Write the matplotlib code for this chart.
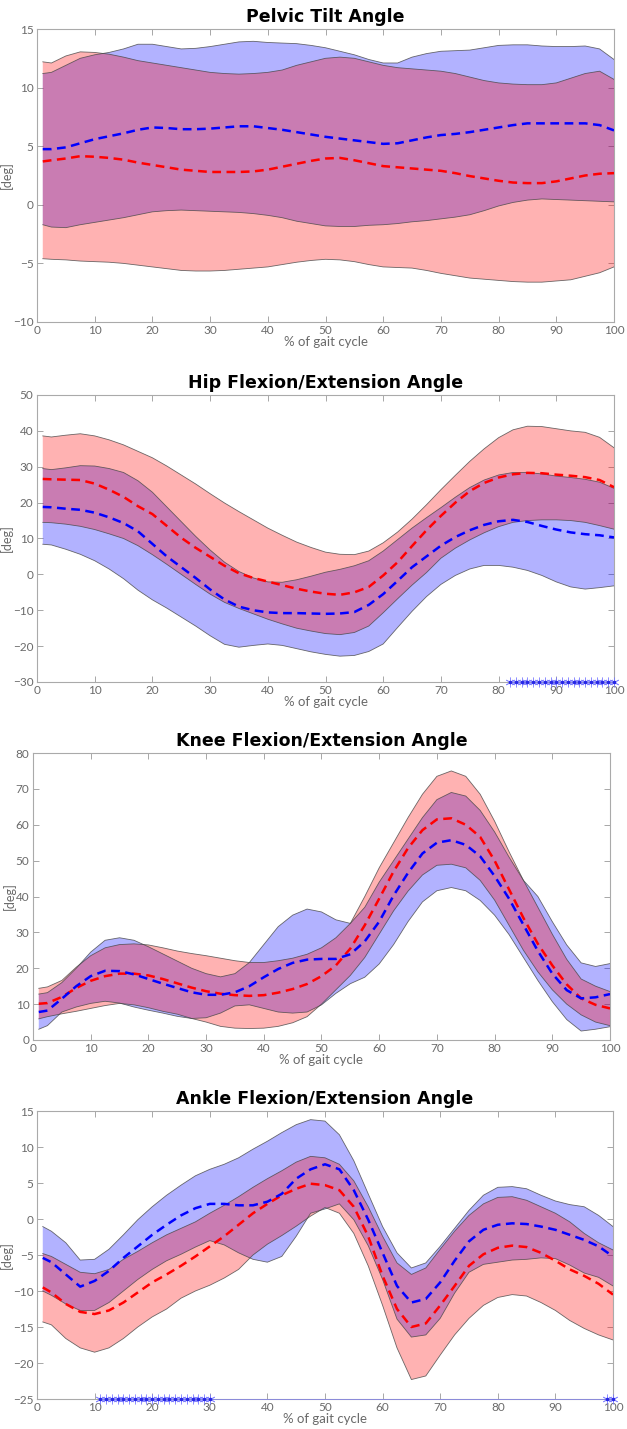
import matplotlib
matplotlib.use("Agg")
import matplotlib.pyplot as plt

# ---------------- data ----------------
X = [1, 2.5, 5, 7.5, 10, 12.5, 15, 17.5, 20, 22.5, 25, 27.5, 30, 32.5, 35, 37.5, 40,
     42.5, 45, 47.5, 50, 52.5, 55, 57.5, 60, 62.5, 65, 67.5, 70, 72.5, 75, 77.5, 80,
     82.5, 85, 87.5, 90, 92.5, 95, 97.5, 100]

# Pelvic tilt
pel_blue_up = [11.2, 11.3, 11.9, 12.5, 12.8, 13.0, 13.3, 13.7, 13.7, 13.5, 13.3, 13.35, 13.5, 13.7,
               13.9, 13.95, 13.85, 13.8, 13.75, 13.6, 13.4, 13.1, 12.8, 12.4, 12.1, 12.1, 12.6, 12.9,
               13.1, 13.15, 13.2, 13.4, 13.6, 13.65, 13.65, 13.55, 13.5, 13.5, 13.55, 13.3, 12.4]
pel_blue_mean = [4.75, 4.75, 4.9, 5.25, 5.6, 5.85, 6.1, 6.4, 6.6, 6.55, 6.45, 6.45, 6.5, 6.6, 6.7,
                 6.7, 6.55, 6.4, 6.2, 6.0, 5.8, 5.65, 5.5, 5.35, 5.2, 5.25, 5.5, 5.75, 5.95, 6.05,
                 6.2, 6.4, 6.6, 6.8, 6.95, 6.95, 6.95, 6.95, 6.95, 6.8, 6.35]
pel_blue_lo = [-1.7, -1.9, -1.95, -1.7, -1.5, -1.3, -1.1, -0.85, -0.6, -0.5, -0.45, -0.5, -0.55,
               -0.6, -0.65, -0.75, -0.9, -1.1, -1.4, -1.6, -1.8, -1.85, -1.85, -1.75, -1.7, -1.6,
               -1.45, -1.35, -1.2, -1.05, -0.85, -0.5, -0.1, 0.2, 0.4, 0.5, 0.45, 0.4, 0.35, 0.3, 0.25]
pel_red_up = [12.2, 12.1, 12.7, 13.05, 13.0, 12.85, 12.6, 12.3, 12.1, 11.9, 11.7, 11.5, 11.3, 11.2,
              11.15, 11.2, 11.3, 11.5, 11.9, 12.2, 12.5, 12.6, 12.5, 12.2, 11.9, 11.7, 11.6, 11.5,
              11.4, 11.2, 10.9, 10.6, 10.4, 10.3, 10.25, 10.25, 10.4, 10.8, 11.2, 11.4, 10.7]
pel_red_mean = [3.7, 3.8, 3.95, 4.15, 4.1, 4.0, 3.85, 3.6, 3.4, 3.2, 3.0, 2.9, 2.8, 2.8, 2.8, 2.85,
                3.0, 3.25, 3.5, 3.75, 3.95, 4.0, 3.8, 3.55, 3.3, 3.2, 3.1, 3.0, 2.9, 2.7, 2.45, 2.25,
                2.05, 1.9, 1.85, 1.85, 2.0, 2.25, 2.5, 2.65, 2.7]
pel_red_lo = [-4.6, -4.65, -4.7, -4.8, -4.85, -4.9, -5.0, -5.15, -5.3, -5.45, -5.6, -5.65, -5.65,
              -5.6, -5.5, -5.4, -5.3, -5.1, -4.9, -4.75, -4.65, -4.7, -4.85, -5.1, -5.3, -5.35,
              -5.4, -5.6, -5.85, -6.05, -6.25, -6.35, -6.45, -6.55, -6.6, -6.6, -6.5, -6.4, -6.1,
              -5.8, -5.3]

# Hip flexion/extension
hip_blue_up = [29.5, 29.2, 29.7, 30.3, 30.2, 29.5, 28.4, 26.1, 22.9, 18.8, 14.7, 10.6, 6.8, 3.4,
               0.8, -1.0, -2.1, -2.2, -1.5, -0.5, 0.6, 1.4, 2.4, 3.8, 6.5, 9.7, 12.9, 15.8, 18.6,
               21.5, 24.2, 26.3, 27.7, 28.4, 28.4, 28.0, 27.4, 27.0, 26.5, 25.7, 24.0]
hip_blue_mean = [18.8, 18.7, 18.3, 18.0, 17.2, 15.9, 14.3, 12.0, 8.5, 5.0, 2.0, -1.0, -4.2, -7.0,
                 -9.0, -10.0, -10.6, -10.8, -10.8, -10.9, -11.0, -10.9, -10.5, -8.5, -5.5, -1.8,
                 2.0, 5.0, 8.0, 10.4, 12.3, 13.8, 14.8, 15.2, 14.6, 13.5, 12.5, 11.7, 11.2, 10.9, 10.3]
hip_blue_lo = [8.4, 8.2, 7.0, 5.6, 3.8, 1.5, -1.2, -4.4, -7.1, -9.4, -11.9, -14.4, -17.1, -19.5,
               -20.3, -19.8, -19.4, -19.8, -20.7, -21.6, -22.3, -22.8, -22.6, -21.5, -19.4, -14.8,
               -10.3, -6.2, -2.8, -0.3, 1.5, 2.5, 2.5, 2.0, 1.1, -0.3, -2.1, -3.5, -4.1, -3.7, -3.2]
hip_red_up = [38.6, 38.3, 38.8, 39.2, 38.6, 37.5, 36.1, 34.3, 32.5, 30.2, 27.7, 25.2, 22.5, 19.9,
              17.5, 15.2, 12.9, 10.9, 9.0, 7.5, 6.2, 5.6, 5.5, 6.5, 8.8, 11.8, 15.4, 19.4, 23.6,
              27.6, 31.5, 35.0, 38.1, 40.3, 41.3, 41.2, 40.6, 40.0, 39.6, 38.2, 35.3]
hip_red_mean = [26.6, 26.5, 26.4, 26.3, 25.3, 23.6, 21.6, 19.0, 16.8, 13.5, 10.2, 7.4, 4.9, 2.4,
                0.3, -1.0, -2.0, -3.0, -4.0, -4.8, -5.4, -5.7, -5.0, -3.5, -0.3, 3.4, 7.9, 12.3,
                16.3, 20.0, 23.2, 25.5, 27.0, 27.9, 28.3, 28.2, 27.8, 27.5, 27.1, 26.3, 24.3]
hip_red_lo = [14.5, 14.4, 14.0, 13.4, 12.5, 11.3, 10.0, 8.0, 5.5, 2.8, 0.0, -2.8, -5.5, -7.8, -9.5,
              -11.0, -12.5, -13.8, -15.0, -15.8, -16.5, -16.8, -16.2, -14.4, -10.7, -6.8, -3.0,
              0.5, 4.5, 7.3, 9.6, 11.6, 13.3, 14.5, 15.0, 15.2, 15.2, 15.0, 14.5, 13.6, 12.6]
hip_sig_x = [82, 83, 84, 85, 86, 87, 88, 89, 90, 91, 92, 93, 94, 95, 96, 97, 98, 99, 100]

# Knee flexion/extension
knee_blue_up = [12.8, 13.2, 16.0, 20.0, 24.5, 27.8, 28.5, 27.8, 26.0, 24.0, 22.0, 20.0, 18.5, 17.6,
                18.5, 21.6, 26.6, 31.6, 34.8, 36.5, 35.7, 33.5, 32.5, 37.0, 44.0, 50.0, 56.0, 62.0,
                67.0, 69.0, 68.0, 64.0, 58.0, 51.0, 44.5, 40.0, 33.0, 26.5, 21.5, 20.5, 21.3]
knee_blue_mean = [7.8, 8.2, 11.5, 15.0, 17.8, 19.3, 19.2, 18.3, 17.0, 15.7, 14.5, 13.3, 12.6, 12.6,
                  13.3, 15.0, 17.5, 19.8, 21.5, 22.4, 22.6, 22.6, 23.9, 27.5, 33.0, 40.3, 46.6, 52.0,
                  55.0, 55.7, 54.4, 51.2, 45.7, 39.4, 32.1, 24.8, 18.5, 13.9, 11.6, 11.9, 12.8]
knee_blue_lo = [3.0, 4.0, 7.8, 9.2, 10.2, 10.8, 10.3, 9.2, 8.3, 7.5, 6.6, 6.0, 6.2, 7.5, 9.5, 9.8,
                8.8, 7.8, 7.5, 7.8, 9.8, 13.0, 15.7, 17.5, 21.2, 26.6, 33.0, 38.5, 41.6, 42.5, 41.6,
                38.9, 34.8, 29.4, 23.0, 16.6, 10.7, 5.7, 2.5, 3.0, 3.7]
knee_red_up = [14.4, 14.8, 16.6, 20.3, 23.5, 25.7, 26.6, 26.8, 26.5, 25.7, 24.8, 24.1, 23.5, 22.8,
               22.1, 21.6, 21.6, 22.1, 22.8, 23.9, 25.7, 28.5, 32.5, 40.0, 48.0, 55.0, 62.0, 68.5,
               73.5, 75.0, 73.5, 68.5, 61.0, 52.5, 44.5, 37.0, 29.5, 22.5, 17.0, 15.0, 13.5]
knee_red_mean = [10.1, 10.3, 12.0, 14.5, 16.5, 17.8, 18.5, 18.5, 18.0, 17.0, 15.8, 14.6, 13.6, 12.9,
                 12.5, 12.3, 12.5, 13.2, 14.2, 15.6, 17.8, 20.8, 25.5, 32.0, 39.4, 47.0, 53.5, 58.5,
                 61.5, 61.8, 60.0, 56.6, 50.0, 42.0, 34.0, 26.8, 20.8, 15.5, 11.6, 9.8, 8.8]
knee_red_lo = [5.9, 6.5, 7.3, 8.0, 8.8, 9.6, 10.2, 9.8, 9.0, 8.0, 7.2, 6.0, 5.0, 3.8, 3.3, 3.2, 3.3,
               3.8, 4.8, 6.5, 10.0, 14.0, 18.0, 23.0, 29.5, 36.0, 41.5, 46.0, 48.7, 49.0, 48.0, 44.5,
               39.0, 32.0, 25.0, 19.0, 14.0, 10.0, 7.0, 5.0, 4.0]

# Ankle flexion/extension
ank_blue_up = [-1.05, -1.7, -3.3, -5.7, -5.6, -4.2, -2.2, -0.1, 1.7, 3.3, 4.7, 6.0, 6.9, 7.6, 8.5,
               9.7, 10.8, 12.0, 13.1, 13.8, 13.6, 11.7, 8.1, 3.5, -1.05, -4.7, -6.8, -6.1, -3.8,
               -1.3, 1.2, 3.3, 4.4, 4.5, 4.2, 3.3, 2.5, 2.0, 1.7, 0.5, -1.05]
ank_blue_mean = [-5.4, -6.0, -7.7, -9.4, -8.6, -7.2, -5.4, -3.8, -2.2, -0.8, 0.5, 1.5, 2.1, 2.1, 1.9,
                 1.9, 2.4, 3.5, 5.6, 6.9, 7.6, 6.9, 4.0, -0.1, -4.7, -9.3, -11.6, -11.1, -8.8, -5.8,
                 -3.1, -1.5, -0.8, -0.6, -0.7, -1.05, -1.5, -2.2, -2.9, -3.8, -5.2]
ank_blue_lo = [-10.0, -10.6, -11.8, -12.7, -12.7, -11.6, -10.0, -8.4, -7.0, -5.8, -4.9, -3.9, -3.0,
               -3.6, -4.7, -5.6, -6.0, -5.2, -2.4, 0.8, 1.4, 2.1, -0.1, -3.7, -8.4, -13.9, -16.4,
               -16.1, -13.8, -10.3, -7.4, -6.3, -6.0, -5.7, -5.6, -5.4, -5.5, -6.4, -7.5, -8.1, -9.3]
ank_red_up = [-4.8, -5.2, -6.3, -7.4, -7.6, -7.0, -5.6, -4.5, -3.3, -2.2, -1.3, -0.4, 0.8, 1.9, 3.1,
              4.4, 5.6, 6.7, 7.9, 8.7, 8.5, 7.6, 5.3, 1.7, -2.4, -6.1, -7.7, -6.8, -4.2, -1.7, 0.5,
              2.1, 3.0, 3.1, 2.6, 1.7, 0.8, -0.4, -2.0, -3.3, -4.3]
ank_red_mean = [-9.5, -10.2, -11.8, -12.9, -13.2, -12.7, -11.6, -10.2, -8.8, -7.7, -6.5, -5.2, -3.8,
                -2.4, -0.8, 0.8, 2.1, 3.3, 4.2, 4.9, 4.7, 4.0, 1.7, -2.4, -7.9, -12.5, -15.0, -14.5,
                -12.0, -9.3, -6.5, -4.9, -4.0, -3.7, -3.9, -4.7, -5.8, -7.0, -7.9, -9.0, -10.5]
ank_red_lo = [-14.3, -14.7, -16.6, -17.9, -18.5, -17.9, -16.6, -15.0, -13.6, -12.5, -11.0, -10.0,
              -9.2, -8.2, -7.0, -5.0, -3.5, -2.3, -1.0, 0.4, 1.6, 0.8, -2.0, -6.5, -12.0, -17.9,
              -22.3, -21.8, -18.9, -16.1, -13.8, -12.0, -10.9, -10.5, -10.7, -11.6, -12.7, -14.1,
              -15.2, -16.1, -16.8]
ank_sig_x = [11, 12, 13, 14, 15, 16, 17, 18, 19, 20, 21, 22, 23, 24, 25, 26, 27, 28, 29, 30, 99, 100]

titles = ["Pelvic Tilt Angle", "Hip Flexion/Extension Angle",
          "Knee Flexion/Extension Angle", "Ankle Flexion/Extension Angle"]
xticks = [0, 10, 20, 30, 40, 50, 60, 70, 80, 90, 100]
yticks_list = [[-10, -5, 0, 5, 10, 15], [-30, -20, -10, 0, 10, 20, 30, 40, 50],
               [0, 10, 20, 30, 40, 50, 60, 70, 80], [-25, -20, -15, -10, -5, 0, 5, 10, 15]]

panels = [
    (pel_blue_lo, pel_blue_up, pel_blue_mean, pel_red_lo, pel_red_up, pel_red_mean, None),
    (hip_blue_lo, hip_blue_up, hip_blue_mean, hip_red_lo, hip_red_up, hip_red_mean, hip_sig_x),
    (knee_blue_lo, knee_blue_up, knee_blue_mean, knee_red_lo, knee_red_up, knee_red_mean, None),
    (ank_blue_lo, ank_blue_up, ank_blue_mean, ank_red_lo, ank_red_up, ank_red_mean, ank_sig_x),
]

# pixel boxes (left, right, top, bottom)
W, H = 627, 1429
boxes = [(37, 614, 29, 322), (37, 614, 395, 682), (33, 610, 753, 1040), (37, 613, 1111, 1399)]

plt.rcParams['font.family'] = ['Lato', 'DejaVu Sans']
fig = plt.figure(figsize=(W / 100, H / 100), dpi=100)
fig.patch.set_facecolor('white')

edge = (0.28, 0.28, 0.28)
tick_col = '#6a6a6a'
for i, (box, data) in enumerate(zip(boxes, panels)):
    l, r, t, b = box
    ax = fig.add_axes([l / W, 1 - b / H, (r - l) / W, (b - t) / H])
    blo, bup, bmean, rlo, rup, rmean, sig = data
    ax.fill_between(X, blo, bup, facecolor=(0, 0, 1), alpha=0.3, edgecolor='none', zorder=2)
    ax.fill_between(X, rlo, rup, facecolor=(1, 0, 0), alpha=0.3, edgecolor='none', zorder=3)
    for arr in (blo, bup, rlo, rup):
        ax.plot(X, arr, color=edge, lw=0.6, alpha=0.8, zorder=4)
    ax.plot(X, rmean, color=(1, 0, 0), lw=1.8, ls=(0, (3.5, 2.2)), zorder=5)
    ax.plot(X, bmean, color=(0, 0, 1), lw=1.8, ls=(0, (3.5, 2.2)), zorder=5)
    yt = yticks_list[i]
    if sig is not None:
        ax.plot(sig, [yt[0]] * len(sig), ls='-', lw=0.5, marker=(6, 2, 0), ms=7, mew=0.6,
                color=(0.45, 0.45, 1.0), alpha=0.8, zorder=6, clip_on=False)
        ax.plot(sig, [yt[0]] * len(sig), ls='none', marker='o', ms=1.6,
                color=(0.15, 0.15, 0.9), zorder=7, clip_on=False)
    ax.set_xlim(0, 100)
    ax.set_ylim(yt[0], yt[-1])
    ax.set_xticks(xticks)
    ax.set_yticks(yt)
    ax.tick_params(direction='in', top=True, right=True, length=4, width=0.6,
                   color='#999999', labelcolor=tick_col, labelsize=8.5, pad=2.5)
    for s in ax.spines.values():
        s.set_color('#aaaaaa')
        s.set_linewidth(0.8)
    ax.set_title(titles[i], fontsize=12.5, fontweight='bold', pad=5, color='black',
                 family=['DejaVu Sans'])
    ax.set_xlabel('% of gait cycle', fontsize=9.5, color=tick_col, labelpad=0)
    ax.set_ylabel('[deg]', fontsize=9, color=tick_col, labelpad=0)

fig.savefig('out.png', dpi=100, facecolor='white')
